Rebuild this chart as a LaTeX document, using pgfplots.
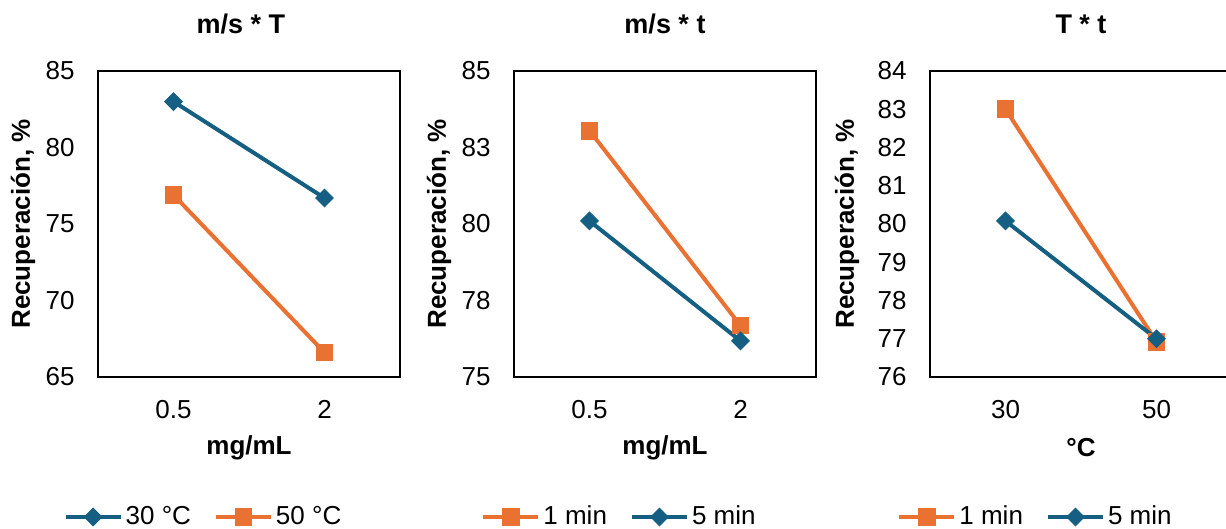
\documentclass[border=0pt]{standalone}
\usepackage{fontspec}
\setmainfont{Liberation Sans}
\usepackage{pgfplots}
\pgfplotsset{compat=1.18}
\definecolor{cblue}{HTML}{156082}
\definecolor{corange}{HTML}{E97132}
\pgfplotsset{
  panel/.style={
    scale only axis, width=151pt, height=153pt,
    xmin=-0.5, xmax=1.5, xtick={0,1},
    axis line style={line width=0.9pt, black},
    major tick length=0pt, tick style={draw=none},
    every tick label/.append style={font=\fontsize{13}{15}\selectfont, inner sep=0pt},
    yticklabel style={anchor=east, xshift=-11.5pt},
    xticklabel style={anchor=north, yshift=-11.5pt},
    title style={at={(0.5,1)}, anchor=center, yshift=17.5pt, font=\fontsize{13.5}{16}\selectfont\bfseries},
    xlabel style={at={(0.5,0)}, anchor=center, yshift=-35.5pt, font=\fontsize{13}{15}\selectfont\bfseries},
    ylabel style={at={(0,0.5)}, anchor=center, font=\fontsize{13}{15}\selectfont\bfseries},
    ylabel={Recuperación, \%},
    legend columns=2,
    legend cell align=left,
    legend style={draw=none, fill=none, at={(0.5,0)}, anchor=center, xshift=-22.5pt, yshift=-70pt,
      font=\fontsize{13}{15}\selectfont, nodes={inner sep=1.5pt},
      /tikz/every even column/.append style={column sep=10pt}},
    legend image code/.code={\draw[mark repeat=2, mark phase=2, #1] plot coordinates {(0pt,0pt) (13.75pt,0pt) (27.5pt,0pt)};},
  },
  sblue/.style={cblue, line width=2pt, mark=square*, mark size=3.1pt, mark options={rotate=45, fill=cblue, draw=cblue, line width=0.5pt}},
  sorange/.style={corange, line width=2pt, mark=square*, mark size=4.2pt, mark options={fill=corange, draw=corange, line width=0.5pt}},
}
\begin{document}
\begin{tikzpicture}
\useasboundingbox (0pt,0pt) rectangle (613pt,264.5pt);
\clip (0pt,0pt) rectangle (613pt,264.5pt);
% Panel 1
\begin{axis}[panel, at={(49pt,76pt)}, anchor=south west,
  title={m/s * T}, title style={xshift=-4pt}, xlabel={mg/mL},
  ylabel style={yshift=37.5pt},
  ymin=65, ymax=85, ytick={65,70,75,80,85}, yticklabels={65,70,75,80,85},
  xticklabels={0.5,2}]
\addplot[sblue] coordinates {(0,83.0) (1,76.7)};
\addlegendentry{30 °C}
\addplot[sorange] coordinates {(0,76.9) (1,66.6)};
\addlegendentry{50 °C}
\end{axis}
% Panel 2
\begin{axis}[panel, at={(257pt,76pt)}, anchor=south west,
  title={m/s * t}, xlabel={mg/mL},
  ylabel style={yshift=37.5pt},
  ymin=75, ymax=85, ytick={75,77.5,80,82.5,85}, yticklabels={75,78,80,83,85},
  xticklabels={0.5,2}]
\addplot[sorange] coordinates {(0,83.05) (1,76.68)};
\addlegendentry{1 min}
\addplot[sblue] coordinates {(0,80.1) (1,76.18)};
\addlegendentry{5 min}
\end{axis}
% Panel 3
\begin{axis}[panel, at={(465pt,76pt)}, anchor=south west,
  title={T * t}, xlabel={°C},
  ylabel style={yshift=41.5pt},
  ymin=76, ymax=84, ytick={76,77,...,84}, yticklabels={76,77,78,79,80,81,82,83,84},
  xticklabels={30,50}]
\addplot[sorange] coordinates {(0,83.0) (1,76.92)};
\addlegendentry{1 min}
\addplot[sblue] coordinates {(0,80.08) (1,77.0)};
\addlegendentry{5 min}
\end{axis}
\end{tikzpicture}
\end{document}
